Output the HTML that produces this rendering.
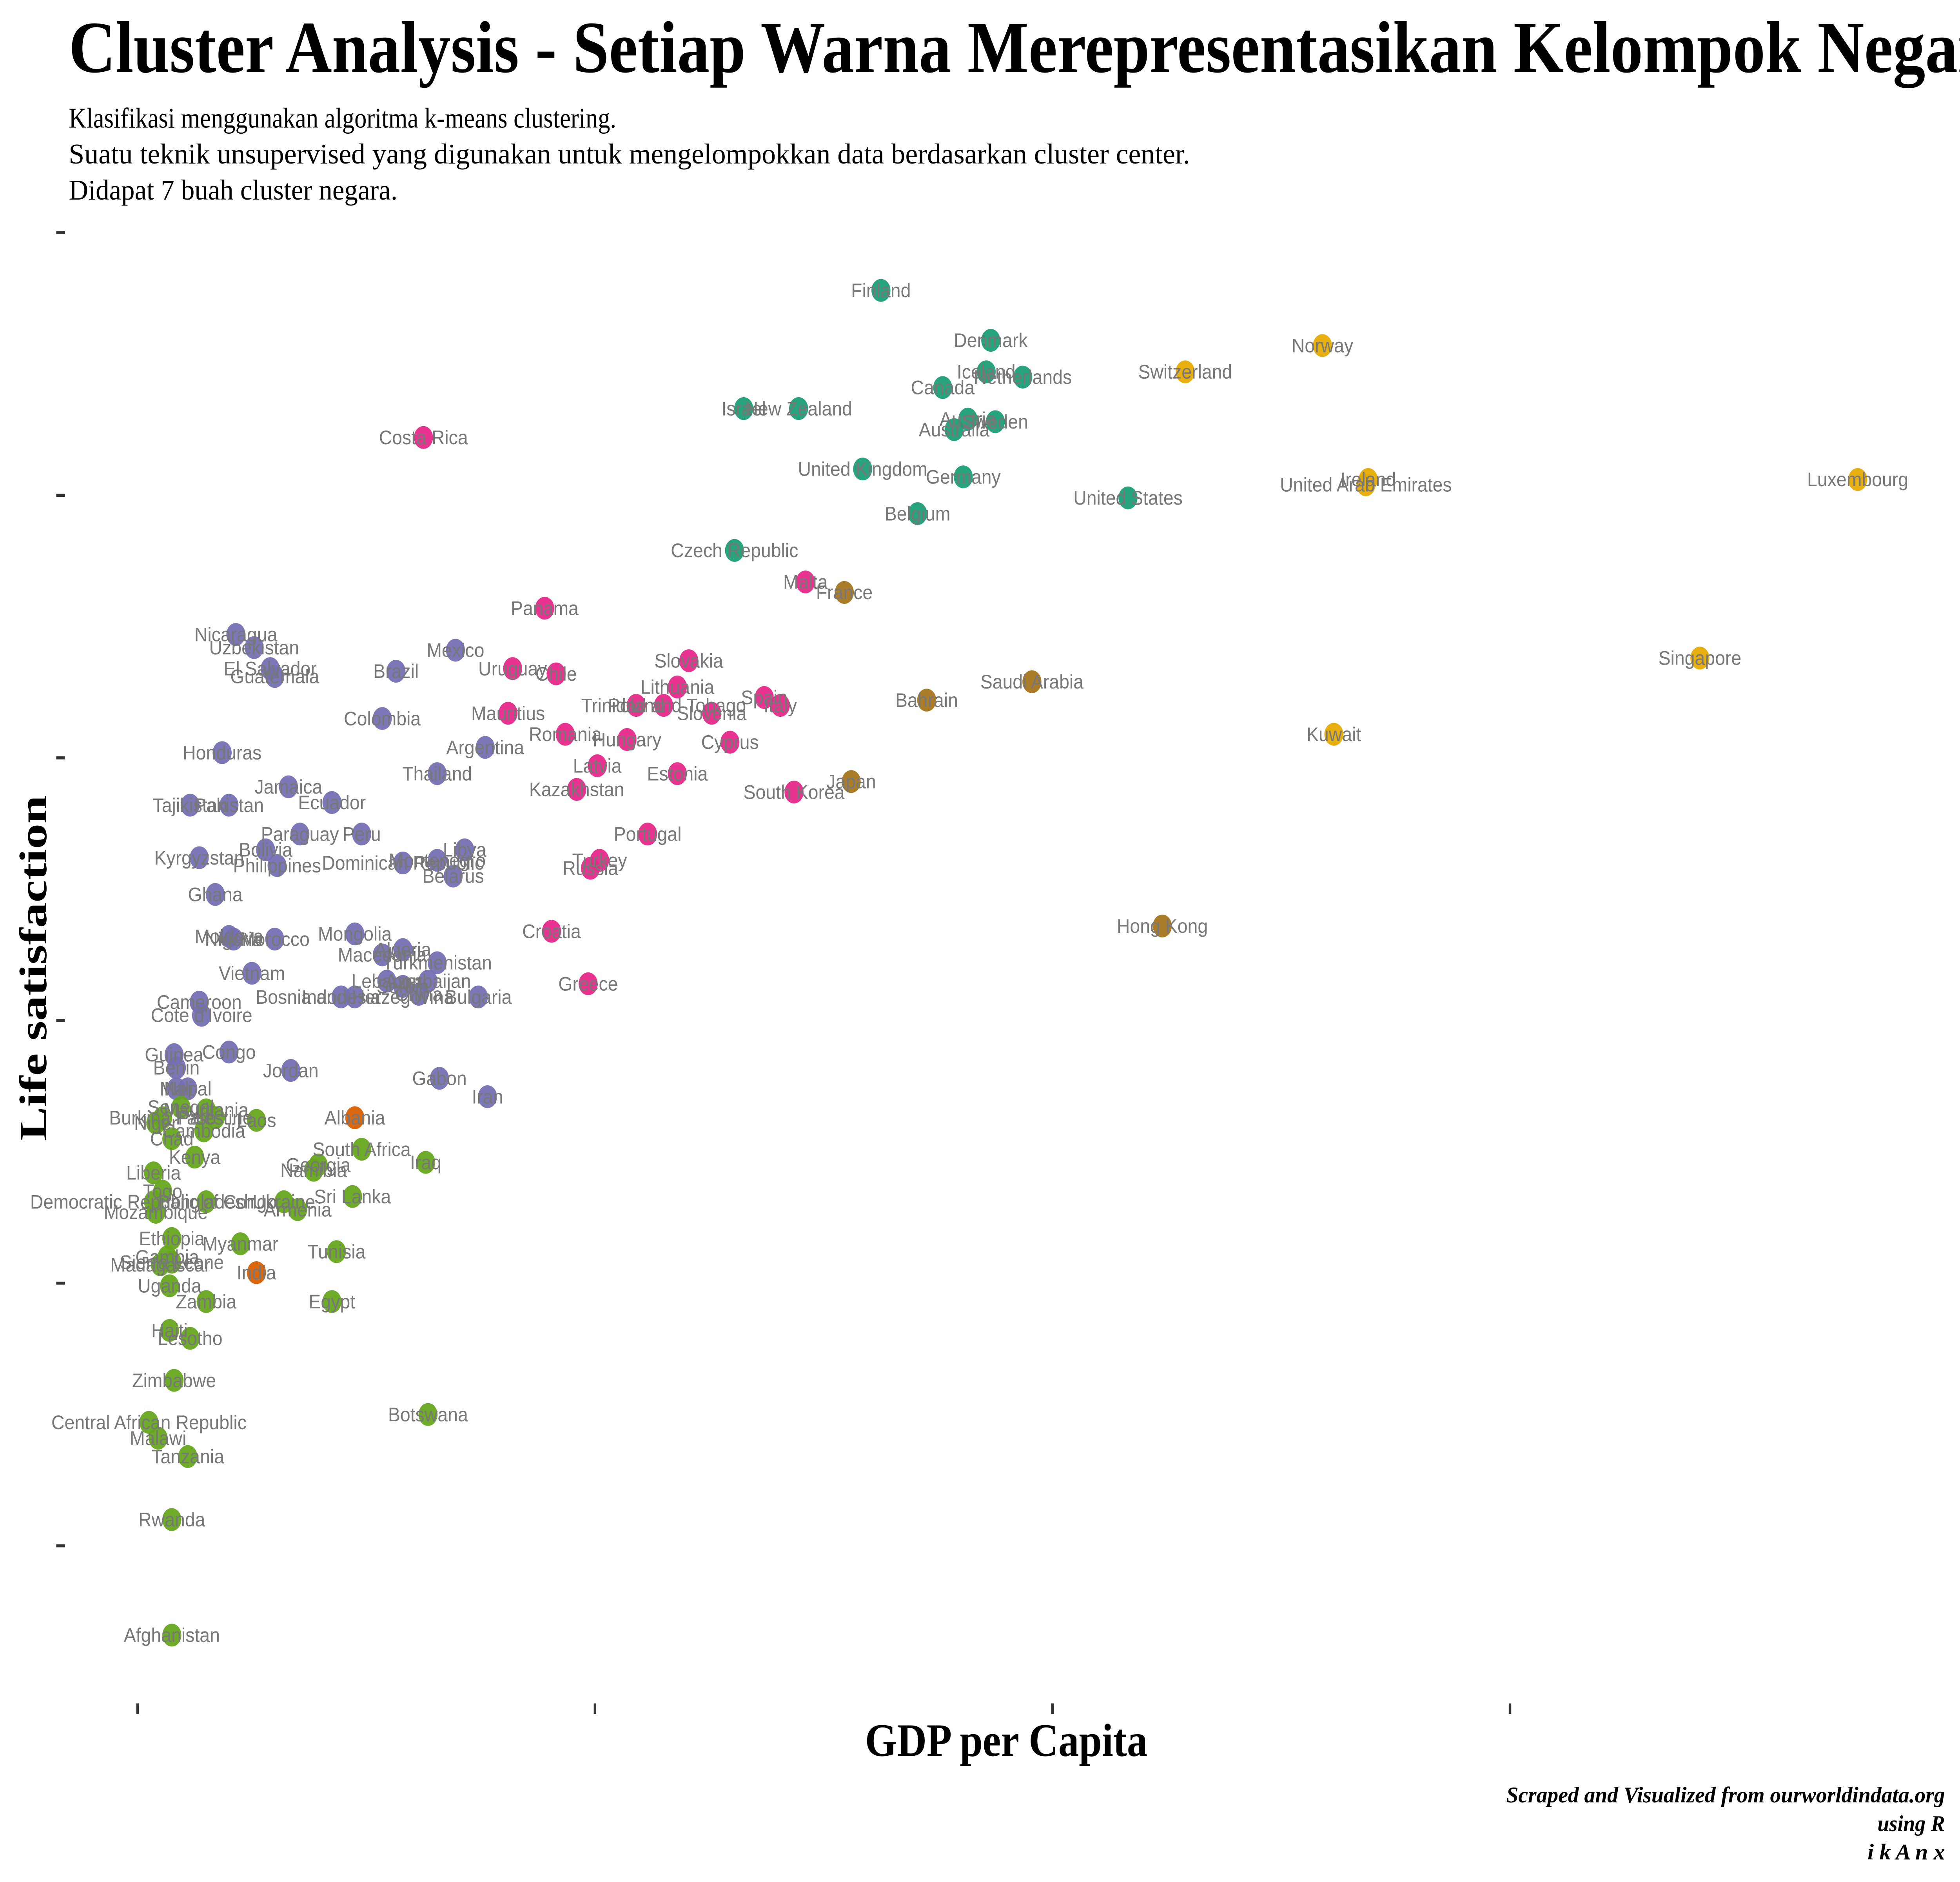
<!DOCTYPE html>
<html><head><meta charset="utf-8"><style>
html,body{margin:0;padding:0;background:#fff;overflow:hidden;width:100vw;height:100vh;}
svg{display:block;width:100vw;height:100vh;}
</style></head><body>
<svg id="chart" viewBox="0 0 1568 1254" preserveAspectRatio="none" xmlns="http://www.w3.org/2000/svg">
<rect width="1568" height="1254" fill="#fff"/>
<text x="55" y="48" font-family="Liberation Serif, serif" font-weight="bold" font-size="49" fill="#000" textLength="1560" lengthAdjust="spacingAndGlyphs">Cluster Analysis - Setiap Warna Merepresentasikan Kelompok Negara</text>
<g font-family="Liberation Serif, serif" font-size="19" fill="#000">
<text x="55" y="85" textLength="438" lengthAdjust="spacingAndGlyphs">Klasifikasi menggunakan algoritma k-means clustering.</text>
<text x="55" y="109" textLength="897" lengthAdjust="spacingAndGlyphs">Suatu teknik unsupervised yang digunakan untuk mengelompokkan data berdasarkan cluster center.</text>
<text x="55" y="133" textLength="263" lengthAdjust="spacingAndGlyphs">Didapat 7 buah cluster negara.</text>
</g>
<text transform="translate(37,645) rotate(-90)" text-anchor="middle" font-family="Liberation Serif, serif" font-weight="bold" font-size="31" textLength="230" lengthAdjust="spacingAndGlyphs">Life satisfaction</text>
<text x="805" y="1170" text-anchor="middle" font-family="Liberation Serif, serif" font-weight="bold" font-size="31" textLength="226" lengthAdjust="spacingAndGlyphs">GDP per Capita</text>
<g font-family="Liberation Serif, serif" font-weight="bold" font-style="italic" font-size="15" text-anchor="end">
<text x="1556" y="1201" textLength="351" lengthAdjust="spacingAndGlyphs">Scraped and Visualized from ourworldindata.org</text>
<text x="1556" y="1220" textLength="54" lengthAdjust="spacingAndGlyphs">using R</text>
<text x="1556" y="1239" textLength="62" lengthAdjust="spacingAndGlyphs">i k A n x</text>
</g>
<g id="axes"></g>
<g id="points"></g>
<g id="labels"></g>
</svg>
<script>
const xTicks = [0, 20, 40, 60];
const yTicks = [8, 7, 6, 5, 4, 3];
const clusterColors = ["#1b9e77","#d95f02","#7570b3","#e7298a","#66a61e","#e6ab02","#a6761d"];
const countries = ["Finland","Denmark","Iceland","Netherlands","Canada","Israel","New Zealand","Austria","Sweden","Australia","United Kingdom","Germany","United States","Belgium","Czech Republic",
"Switzerland","Norway","Ireland","United Arab Emirates","Luxembourg","Singapore","Kuwait",
"France","Saudi Arabia","Bahrain","Japan","Hong Kong",
"Costa Rica","Malta","Panama","Slovakia","Uruguay","Chile","Lithuania","Spain","Italy","Trinidad and Tobago","Poland","Slovenia","Mauritius","Romania","Hungary","Cyprus","Latvia","Estonia","Kazakhstan","South Korea","Portugal","Turkey","Russia","Croatia","Greece",
"Nicaragua","Uzbekistan","El Salvador","Guatemala","Brazil","Mexico","Colombia","Argentina","Thailand","Honduras","Jamaica","Tajikistan","Pakistan","Ecuador","Paraguay","Peru","Bolivia","Philippines","Kyrgyzstan","Dominican Republic","Montenegro","Libya","Belarus","Ghana","Nigeria","Moldova","Morocco","Mongolia","Algeria","Macedonia","Turkmenistan","Vietnam","Lebanon","Azerbaijan","Serbia","Bosnia and Herzegovina","Indonesia","Bulgaria","Cameroon","Cote d'Ivoire","Guinea","Benin","Congo","Jordan","Gabon","Iran","Mali","Nepal",
"China","India",
"Albania","Laos","Palestine","Mauritania","Senegal","Burkina Faso","Niger","Cambodia","Chad","South Africa","Iraq","Kenya","Georgia","Namibia","Liberia","Togo","Sri Lanka","Ukraine","Armenia","Democratic Republic of Congo","Mozambique","Bangladesh","Ethiopia","Myanmar","Gambia","Sierra Leone","Madagascar","Tunisia","Uganda","Zambia","Egypt","Haiti","Lesotho","Zimbabwe","Botswana","Central African Republic","Malawi","Tanzania","Rwanda","Afghanistan"];
const gdp = [32.5,37.3,37.1,38.7,35.2,26.5,28.9,36.3,37.5,35.7,31.7,36.1,43.3,34.1,26.1,
45.8,51.8,53.8,53.7,75.2,68.3,52.3,
30.9,39.1,34.5,31.2,44.8,
12.5,29.2,17.8,24.1,16.4,18.3,23.6,27.4,28.1,23.0,21.8,25.1,16.2,18.7,21.4,25.9,20.1,23.6,19.2,28.7,22.3,20.2,19.8,18.1,19.7,
4.3,5.1,5.8,6.0,11.3,13.9,10.7,15.2,13.1,3.7,6.6,2.3,4.0,8.5,7.1,9.8,5.6,6.1,2.7,11.6,13.1,14.3,13.8,3.4,4.2,4.0,6.0,9.5,11.6,10.7,13.1,5.0,10.9,12.7,11.6,9.5,8.9,14.9,2.7,2.8,1.6,1.7,4.0,6.7,13.2,15.3,1.7,2.2,
12.3,5.2,
9.5,5.2,3.4,3.0,1.9,1.1,0.8,2.9,1.5,9.8,12.6,2.5,7.9,7.7,0.7,1.1,9.4,6.4,7.0,0.7,0.8,3.0,1.5,4.5,1.3,1.5,1.0,8.7,1.4,3.0,8.5,1.4,2.3,1.6,12.7,0.5,0.9,2.2,1.5,1.5];
const life = [7.78,7.59,7.47,7.45,7.41,7.33,7.33,7.29,7.28,7.25,7.10,7.07,6.99,6.93,6.79,
7.47,7.57,7.06,7.04,7.06,6.38,6.09,
6.63,6.29,6.22,5.91,5.36,
7.22,6.67,6.57,6.37,6.34,6.32,6.27,6.23,6.20,6.20,6.20,6.17,6.17,6.09,6.07,6.06,5.97,5.94,5.88,5.87,5.71,5.61,5.58,5.34,5.14,
6.47,6.42,6.34,6.31,6.33,6.41,6.15,6.04,5.94,6.02,5.89,5.82,5.82,5.83,5.71,5.71,5.65,5.59,5.62,5.60,5.61,5.65,5.55,5.48,5.31,5.32,5.31,5.33,5.27,5.25,5.22,5.18,5.15,5.15,5.13,5.09,5.09,5.09,5.07,5.02,4.87,4.82,4.88,4.81,4.78,4.71,4.74,4.74,
5.10,4.04,
4.63,4.62,4.63,4.66,4.67,4.63,4.61,4.58,4.55,4.51,4.46,4.48,4.45,4.43,4.42,4.35,4.33,4.31,4.28,4.31,4.27,4.31,4.17,4.15,4.10,4.08,4.07,4.12,3.99,3.93,3.93,3.82,3.79,3.63,3.50,3.47,3.41,3.34,3.10,2.66];
const cluster = [0,0,0,0,0,0,0,0,0,0,0,0,0,0,0,
5,5,5,5,5,5,5,
6,6,6,6,6,
3,3,3,3,3,3,3,3,3,3,3,3,3,3,3,3,3,3,3,3,3,3,3,3,3,
2,2,2,2,2,2,2,2,2,2,2,2,2,2,2,2,2,2,2,2,2,2,2,2,2,2,2,2,2,2,2,2,2,2,2,2,2,2,2,2,2,2,2,2,2,2,2,2,2,
1,1,
4,4,4,4,4,4,4,4,4,4,4,4,4,4,4,4,4,4,4,4,4,4,4,4,4,4,4,4,4,4,4,4,4,4,4,4,4,4,4,4];

const NS = "http://www.w3.org/2000/svg";
function xScale(v){ return 110 + v * 18.3; }
function yScale(v){ return 155 + (8 - v) * 175; }

const axes = document.getElementById('axes');
xTicks.forEach(t => {
  const l = document.createElementNS(NS,'line');
  l.setAttribute('x1', xScale(t)); l.setAttribute('x2', xScale(t));
  l.setAttribute('y1', 1135); l.setAttribute('y2', 1142);
  l.setAttribute('stroke','#333'); l.setAttribute('stroke-width','2');
  
  
  axes.appendChild(l);
});
yTicks.forEach(t => {
  const l = document.createElementNS(NS,'line');
  l.setAttribute('x1', 45); l.setAttribute('x2', 52);
  l.setAttribute('y1', yScale(t)); l.setAttribute('y2', yScale(t));
  l.setAttribute('stroke','#333'); l.setAttribute('stroke-width','2');
  
  
  axes.appendChild(l);
});

const pts = document.getElementById('points');
const labs = document.getElementById('labels');
countries.forEach((name, i) => {
  const cx = xScale(gdp[i]), cy = yScale(life[i]);
  const c = document.createElementNS(NS,'ellipse');
  c.setAttribute('cx', cx); c.setAttribute('cy', cy); c.setAttribute('rx', 7.6); c.setAttribute('ry', 7.6);
  c.setAttribute('fill', clusterColors[cluster[i]]); c.setAttribute('fill-opacity', '0.95');
  
  
  pts.appendChild(c);
  const t = document.createElementNS(NS,'text');
  t.setAttribute('x', 0); t.setAttribute('y', cy + 4.5);
  t.setAttribute('transform', 'translate(' + cx + ',0) scale(1.12,1)');
  t.setAttribute('text-anchor','middle');
  t.setAttribute('font-family','Liberation Sans, sans-serif');
  t.setAttribute('font-size','13');
  t.setAttribute('fill','#777');
  t.textContent = name;
  
  
  labs.appendChild(t);
});
</script>
</body></html>
